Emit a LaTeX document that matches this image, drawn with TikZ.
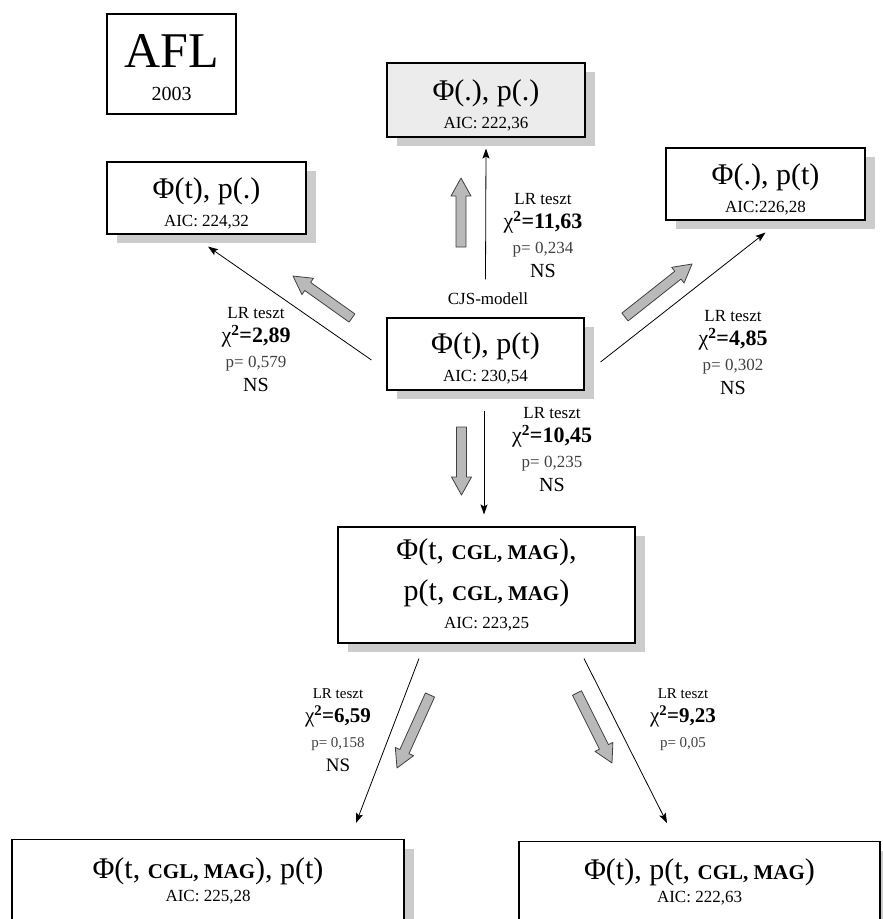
\documentclass[tikz,border=0pt]{standalone}
\usepackage{fontspec}
\setmainfont{Liberation Serif}
\usetikzlibrary{shadows,arrows.meta,calc}

\newcommand\Mf{\fontsize{30}{28}\selectfont}
\newcommand\Sc[1]{{\fontsize{21}{20}\selectfont\bfseries #1}}
\newcommand\St{\rule{0pt}{32pt}}
\newcommand\Chi{{\mdseries χ}}
\newcommand\garrow[3]{% tail, tip, name
  \coordinate (#3a) at (#1);
  \coordinate (#3b) at (#2);
  \path let \p1=($(#3b)-(#3a)$), \n1={veclen(\x1,\y1)}, \n2={atan2(\y1,\x1)} in
    [shift={(#3a)}, rotate=\n2]
    [draw=black!75, line width=0.8pt, fill=gray!55, line join=round]
    (0pt,-5pt) -- (\n1-18pt,-5pt) -- (\n1-18pt,-10pt) -- (\n1,0pt) -- (\n1-18pt,10pt) -- (\n1-18pt,5pt) -- (0pt,5pt) -- cycle;
}

\tikzset{
  box/.style={draw, line width=1.1pt, fill=white, align=center, inner sep=0pt,
    font=\fontsize{17}{28}\selectfont},
  shad/.style={drop shadow={shadow xshift=10pt, shadow yshift=-9pt, fill=gray!40, opacity=1}},
  conn/.style={line width=0.8pt, -{Stealth[length=10pt,width=7pt,inset=2pt]}},
  lab/.style={align=center, inner sep=0pt, anchor=north, font=\fontsize{17}{24.5}\selectfont},
  btxt/.style={align=center, inner sep=0pt, anchor=north, font=\fontsize{17}{23}\selectfont},
}

\begin{document}
\begin{tikzpicture}[x=1pt,y=-1pt]
\useasboundingbox (0,0) rectangle (883,919);
\clip (0,0) rectangle (883,919);

% boxes
\node[box, minimum width=129pt, minimum height=100pt, font=\fontsize{20}{33}\selectfont] (afl) at (171.5,64)
  {{\rule{0pt}{40pt}\fontsize{50}{33}\selectfont AFL}\\2003};
\node[box, shad, minimum width=199pt, minimum height=72pt] (tpd) at (206.5,198)
  {{\St\Mf Φ(t), p(.)}\\AIC: 224,32};
\node[box, shad, fill=gray!15, minimum width=198pt, minimum height=74pt] (dpd) at (486,100)
  {{\St\Mf Φ(.), p(.)}\\AIC: 222,36};
\node[box, shad, minimum width=199pt, minimum height=72pt] (dpt) at (765.5,184)
  {{\St\Mf Φ(.), p(t)}\\AIC:226,28};
\node[box, shad, minimum width=197pt, minimum height=72pt] (tpt) at (485.5,354)
  {{\rule{0pt}{30pt}\Mf Φ(t), p(t)}\\AIC: 230,54};
\node[box, shad, minimum width=297pt, minimum height=116pt] (mid) at (486.5,585)
  {{\Mf Φ(t, \Sc{CGL, MAG}),}\\[13pt]{\Mf p(t, \Sc{CGL, MAG})}\\AIC: 223,25};
\node[box, shad, minimum width=392pt, minimum height=110pt, anchor=north] (bl) at (208,839) {};
\node[btxt] (blt) at ([yshift=-18pt]bl.north) {{\Mf Φ(t, \Sc{CGL, MAG}), p(t)}\\AIC: 225,28};
\node[box, shad, minimum width=361pt, minimum height=110pt, anchor=north] (br) at (699.5,841) {};
\node[btxt] (brt) at ([yshift=-17pt]br.north) {{\Mf Φ(t), p(t, \Sc{CGL, MAG})}\\AIC: 222,63};

\node[font=\fontsize{17}{20}\selectfont] (cjs) at (488,299) {CJS-modell};

% connectors
\draw[conn] ([yshift=38pt]tpt.north) -- ([yshift=-11pt]dpd.south);
\draw[conn] ([xshift=-15pt,yshift=-6pt]tpt.west) -- ([xshift=1.5pt,yshift=-12pt]tpd.south);
\draw[conn] ([xshift=16pt,yshift=-8pt]tpt.east) -- ([yshift=-12pt]dpt.south);
\draw[conn] ([xshift=-1.5pt,yshift=-20pt]tpt.south) -- ([xshift=-2.5pt,yshift=12pt]mid.north);
\draw[conn] ([xshift=-67.5pt,yshift=-15pt]mid.south) -- ([xshift=148pt,yshift=16pt]bl.north);
\draw[conn] ([xshift=97.5pt,yshift=-15pt]mid.south) -- ([xshift=-32.5pt,yshift=18pt]br.north);

% gray block arrows
\garrow{461,247}{461,178}{gu}
\garrow{352,318}{293,276}{gl}
\garrow{625,317}{692,264}{gr}
\garrow{461.5,427}{461.5,495}{gd}
\garrow{430,695}{397,768}{gbl}
\garrow{577,693}{612,763}{gbr}

% labels
\node[lab] (l1) at (256,307) {LR teszt\\{\fontsize{22}{24}\selectfont\bfseries \Chi\textsuperscript{2}=2,89}\\{\color{black!75}p= 0,579}\\{\fontsize{20}{24}\selectfont NS}};
\node[lab] (l2) at (543,193) {LR teszt\\{\fontsize{22}{24}\selectfont\bfseries \Chi\textsuperscript{2}=11,63}\\{\color{black!75}p= 0,234}\\{\fontsize{20}{24}\selectfont NS}};
\node[lab] (l3) at (733,310) {LR teszt\\{\fontsize{22}{24}\selectfont\bfseries \Chi\textsuperscript{2}=4,85}\\{\color{black!75}p= 0,302}\\{\fontsize{20}{24}\selectfont NS}};
\node[lab] (l4) at (552,407) {LR teszt\\{\fontsize{22}{24}\selectfont\bfseries \Chi\textsuperscript{2}=10,45}\\{\color{black!75}p= 0,235}\\{\fontsize{20}{24}\selectfont NS}};
\node[lab, font=\fontsize{15}{24.5}\selectfont] (l5) at (338,688) {LR teszt\\{\fontsize{21}{24}\selectfont\bfseries \Chi\textsuperscript{2}=6,59}\\{\color{black!75}p= 0,158}\\{\fontsize{19}{24}\selectfont NS}};
\node[lab, font=\fontsize{15}{24.5}\selectfont] (l6) at (683,688) {LR teszt\\{\fontsize{21}{24}\selectfont\bfseries \Chi\textsuperscript{2}=9,23}\\{\color{black!75}p= 0,05}};
\end{tikzpicture}
\end{document}
